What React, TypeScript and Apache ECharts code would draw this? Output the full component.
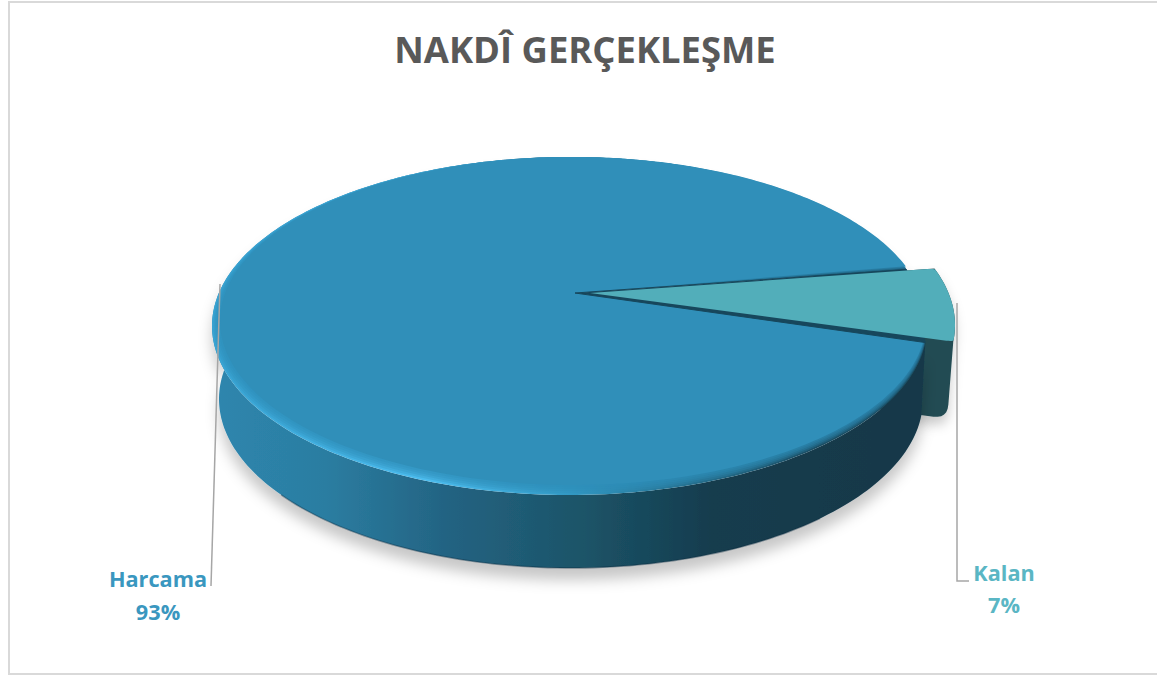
import React, { useEffect, useRef } from "react";
import * as echarts from "echarts";

const chartTitle = "NAKDÎ GERÇEKLEŞME";
const categories = ["Harcama", "Kalan"];
const values = [93, 7];
const sliceColors = ["#308fb9", "#52aeba"];
const labelColors = ["#3a97bf", "#5ab6c4"];

// Layout of the tilted pie (not data)
const START_DEG = 27.7;
const TIP = { x: 575, y: 293 };
const TOP = { cx: 569.5, cy: 326, rx: 357.5, ry: 169 };
const BOTTOM = { cx: 571, cy: 399, rx: 352, ry: 169 };
const FACE = { cx: 573, cy: 321, rx: 353, ry: 164 };
const EXPLODE_TIP = [15, 0];
const EXPLODE_RIM = [28, -1];
const WALL_DEPTH = 77;
const LEADERS = [
  [[220, 284], [211, 586]],
  [[957, 303], [957, 581], [969, 581]],
];
const LABELS = [
  { x: 158, y: 578, dy: 33 },
  { x: 1004, y: 572, dy: 32 },
];

type E = { cx: number; cy: number; rx: number; ry: number };
type P = number[];

const AX = (TIP.x - TOP.cx) / TOP.rx;
const AY = (TIP.y - TOP.cy) / TOP.ry;

function rimPoint(deg: number, e: E): P {
  const t = (deg * Math.PI) / 180;
  const zx = Math.cos(t);
  const zy = Math.sin(t);
  const nx = zx + AX;
  const ny = zy + AY;
  const dx = 1 + AX * zx + AY * zy;
  const dy = AX * zy - AY * zx;
  const m = dx * dx + dy * dy;
  const re = (nx * dx + ny * dy) / m;
  const im = (ny * dx - nx * dy) / m;
  return [e.cx + e.rx * re, e.cy + e.ry * im];
}

function arc(from: number, sweep: number, e: E): P[] {
  const n = Math.max(2, Math.ceil(sweep));
  const out: P[] = [];
  for (let i = 0; i <= n; i++) out.push(rimPoint(from + (sweep * i) / n, e));
  return out;
}

function roundCorner(pts: P[], i: number, r: number): P[] {
  const n = pts.length;
  const prev = pts[(i - 1 + n) % n];
  const cur = pts[i];
  const next = pts[(i + 1) % n];
  const toward = (a: P, b: P) => {
    const d = Math.hypot(b[0] - a[0], b[1] - a[1]) || 1;
    const k = Math.min(r, d / 2) / d;
    return [a[0] + (b[0] - a[0]) * k, a[1] + (b[1] - a[1]) * k];
  };
  const s = toward(cur, prev);
  const f = toward(cur, next);
  const curve: P[] = [];
  for (let k = 0; k <= 6; k++) {
    const t = k / 6;
    const u = 1 - t;
    curve.push([
      u * u * s[0] + 2 * u * t * cur[0] + t * t * f[0],
      u * u * s[1] + 2 * u * t * cur[1] + t * t * f[1],
    ]);
  }
  return [...pts.slice(0, i), ...curve, ...pts.slice(i + 1)];
}

const shift = (pts: P[], o: number[]) => pts.map((p) => [p[0] + o[0], p[1] + o[1]]);
const total = values.reduce((a, b) => a + b, 0);
const sweepOf = (v: number) => (v / total) * 360;
const lerp = (a: E, b: E, t: number): E => ({
  cx: a.cx + (b.cx - a.cx) * t,
  cy: a.cy + (b.cy - a.cy) * t,
  rx: a.rx + (b.rx - a.rx) * t,
  ry: a.ry + (b.ry - a.ry) * t,
});

function sideGradient() {
  return new echarts.graphic.LinearGradient(0, 0, 1, 0, [
    { offset: 0, color: "#2e86ae" },
    { offset: 0.16, color: "#2b7da1" },
    { offset: 0.33, color: "#236382" },
    { offset: 0.52, color: "#1c5468" },
    { offset: 0.7, color: "#143c4e" },
    { offset: 1, color: "#143848" },
  ]);
}

function renderSlice(params: any, api: any) {
  const i = params.dataIndex;
  const sweep = sweepOf(api.value(0));
  const from = i === 0 ? START_DEG : START_DEG + sweepOf(values[0]);
  const children: any[] = [];
  if (i === 0) {
    const top = arc(from, sweep, TOP);
    const bottom = arc(from, sweep, BOTTOM);
    const cutA = rimPoint(from, TOP);
    const cutB = rimPoint(from + sweep, TOP);
    children.push({
      type: "polygon",
      z2: 2,
      shape: { points: [...top, ...bottom.slice().reverse()] },
      style: {
        fill: sideGradient(),
        shadowColor: "rgba(0,0,0,0.22)",
        shadowBlur: 14,
        shadowOffsetY: 12,
      },
    });
    children.push({
      type: "polyline",
      z2: 2,
      shape: { points: arc(60, 70, BOTTOM) },
      style: { stroke: "rgba(10,40,60,0.4)", lineWidth: 1.5, fill: "none" },
    });
    children.push({
      type: "polygon",
      z2: 3,
      shape: { points: roundCorner([[TIP.x, TIP.y], ...top], 1, 8) },
      style: {
        fill: new echarts.graphic.LinearGradient(0, 0, 1, 0, [
          { offset: 0, color: "#38a3d2" },
          { offset: 0.3, color: "#4cbcee" },
          { offset: 0.5, color: "#3299c4" },
          { offset: 0.68, color: "#256f8e" },
          { offset: 0.85, color: "#1a4d63" },
          { offset: 1, color: "#1b5068" },
        ]),
      },
    });
    for (let k = 1; k <= 5; k++) {
      children.push({
        type: "polygon",
        z2: 4,
        shape: { points: roundCorner([[TIP.x, TIP.y], ...arc(from, sweep, lerp(TOP, FACE, k / 5))], 1, 8) },
        style: { fill: sliceColors[0], opacity: k === 5 ? 1 : 0.3 },
      });
    }
    children.push({
      type: "polygon",
      z2: 5,
      shape: { points: [[TIP.x, TIP.y], cutB, cutA] },
      style: { fill: "#17475c", stroke: "#17475c", lineWidth: 1 },
    });
  } else {
    const top = shift(arc(from, sweep, TOP), EXPLODE_RIM);
    const lowerRim = top[top.length - 1];
    const lowerBottom = [lowerRim[0] - 6, lowerRim[1] + WALL_DEPTH];
    const tipTop = [TIP.x + EXPLODE_TIP[0], TIP.y + EXPLODE_TIP[1]];
    const tipBottom = [tipTop[0], tipTop[1] + WALL_DEPTH];
    let wall: P[] = [...top, lowerBottom, tipBottom, tipTop];
    wall = roundCorner(wall, top.length, 14);
    children.push({
      type: "polygon",
      z2: 1,
      shape: { points: wall },
      style: {
        fill: "#234b52",
        shadowColor: "rgba(0,0,0,0.2)",
        shadowBlur: 12,
        shadowOffsetY: 8,
      },
    });
    let face: P[] = [tipTop, ...top];
    face = roundCorner(face, face.length - 1, 7);
    face = roundCorner(face, 1, 7);
    children.push({
      type: "polygon",
      z2: 6,
      shape: { points: face },
      style: { fill: sliceColors[1] },
    });
  }
  children.push({
    type: "polyline",
    z2: 8,
    shape: { points: LEADERS[i] },
    style: { stroke: "#a6a6a6", lineWidth: 1.5, fill: "none" },
  });
  const pos = LABELS[i];
  const font = "700 21.7px 'Open Sans'";
  children.push({
    type: "text",
    z2: 9,
    x: pos.x,
    y: pos.y,
    style: { text: categories[i], fill: labelColors[i], font, align: "center", verticalAlign: "middle" },
  });
  children.push({
    type: "text",
    z2: 9,
    x: pos.x,
    y: pos.y + pos.dy,
    style: { text: `${api.value(0)}%`, fill: labelColors[i], font, align: "center", verticalAlign: "middle" },
  });
  return { type: "group", children };
}

export default function App() {
  const ref = useRef<HTMLDivElement>(null);
  useEffect(() => {
    document.body.style.margin = "0";
    const chart = echarts.init(ref.current!, null, { renderer: "svg" });
    chart.setOption({
      animation: false,
      backgroundColor: "#ffffff",
      title: {
        text: chartTitle,
        left: 580,
        top: 26,
        textAlign: "center",
        textStyle: { color: "#595959", fontFamily: "Open Sans", fontWeight: 700, fontSize: 36.4 },
      },
      graphic: [
        {
          type: "rect",
          shape: { x: 9, y: 2, width: 1170, height: 672 },
          style: { fill: "none", stroke: "#d9d9d9", lineWidth: 2 },
        },
      ],
      series: [
        {
          type: "custom",
          coordinateSystem: "none",
          data: values.map((v, i) => ({ name: categories[i], value: [v] })),
          renderItem: renderSlice,
        },
      ],
    });
    return () => chart.dispose();
  }, []);
  return <div ref={ref} style={{ width: 1157, height: 675, overflow: "hidden" }} />;
}
